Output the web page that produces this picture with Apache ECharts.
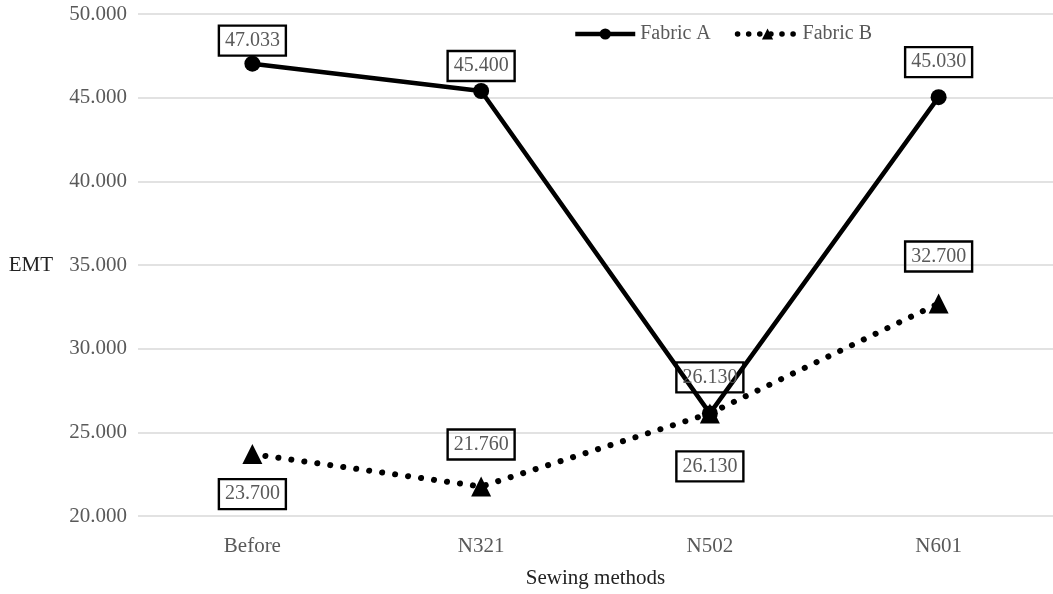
<!DOCTYPE html>
<html><head><meta charset="utf-8">
<script src="https://cdn.jsdelivr.net/npm/echarts@6/dist/echarts.min.js"></script>
<style>html,body{margin:0;padding:0;background:#fff}#c{width:1053px;height:594px}</style>
</head><body><div id="c"></div>
<script>
const categories = ["Before", "N321", "N502", "N601"];
const fabricA = [47.033, 45.400, 26.130, 45.030];
const fabricB = [23.700, 21.760, 26.130, 32.700];
const yTicks = [20, 25, 30, 35, 40, 45, 50];

// label placement (style only)
const offA = [[0, -23], [0, -25], [0, -36], [0, -35]];
const offB = [[0, 40], [0, -42], [0, 53], [0, -47]];

const font = '"Liberation Serif", "Times New Roman", serif';
const labelBase = {
  show: true, position: 'inside', color: '#595959', fontFamily: font, fontSize: 20,
  borderColor: '#000', borderWidth: 1.2, padding: [6, 6, 4, 6], backgroundColor: 'transparent',
  formatter: p => p.value.toFixed(3)
};
const chart = echarts.init(document.getElementById('c'));
chart.setOption({
  animation: false,
  textStyle: { fontFamily: font },
  grid: { left: 138, right: -4, top: 14, bottom: 75 },
  legend: {
    top: 24, left: 573, padding: 0, itemWidth: 60, itemHeight: 14, itemGap: 24,
    textStyle: { color: '#595959', fontSize: 20, fontFamily: font },
    data: [
      { name: 'Fabric A', lineStyle: { width: 4.5 } },
      { name: 'Fabric B', lineStyle: { width: 5.5, type: [0.1, 11], cap: 'round' } }
    ]
  },
  xAxis: {
    type: 'category', data: categories, boundaryGap: true,
    axisLine: { show: false }, axisTick: { show: false },
    axisLabel: { color: '#595959', fontSize: 21, margin: 20, fontFamily: font },
    name: 'Sewing methods', nameLocation: 'middle', nameGap: 52,
    nameTextStyle: { color: '#222', fontSize: 21, fontFamily: font }
  },
  yAxis: {
    type: 'value', min: yTicks[0], max: yTicks[yTicks.length - 1], interval: 5,
    axisLine: { show: false }, axisTick: { show: false },
    splitLine: { lineStyle: { color: '#d9d9d9', width: 1.5 } },
    axisLabel: { color: '#595959', fontSize: 21, margin: 11, fontFamily: font, formatter: v => v.toFixed(3) },
    name: 'EMT', nameLocation: 'middle', nameGap: 85, nameRotate: 0,
    nameTextStyle: { color: '#222', fontSize: 21, fontFamily: font }
  },
  series: [
    {
      name: 'Fabric A', type: 'line', data: fabricA.map((v, i) => ({ value: v, label: Object.assign({}, labelBase, { offset: offA[i] }) })),
      symbol: 'circle', symbolSize: 16, lineStyle: { color: '#000', width: 4.5 }, itemStyle: { color: '#000' }, z: 3
    },
    {
      name: 'Fabric B', type: 'line', data: fabricB.map((v, i) => ({ value: v, label: Object.assign({}, labelBase, { offset: offB[i] }) })),
      symbol: 'triangle', symbolSize: 20, lineStyle: { color: '#000', width: 6, type: [0.1, 13], cap: 'round' }, itemStyle: { color: '#000' }, z: 2
    }
  ]
});
</script></body></html>
